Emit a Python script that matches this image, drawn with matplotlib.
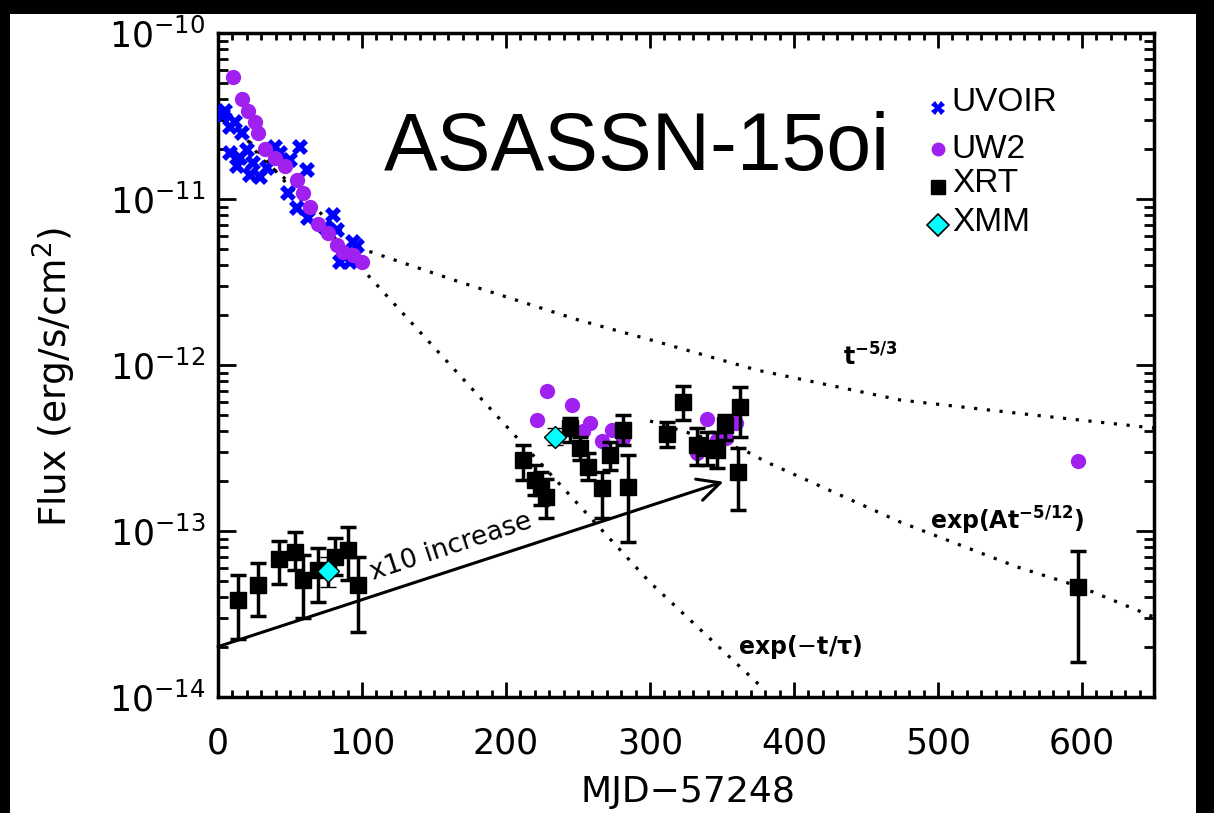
import matplotlib.pyplot as plt
from matplotlib.patches import Rectangle
from matplotlib.ticker import MultipleLocator, LogLocator, NullFormatter

# UVOIR (blue crosses)
uvoir_t = [3.7, 4.9, 8.3, 8.3, 11.8, 13.0, 15.3, 16.4, 19.9, 22.2, 24.5, 29.2, 33.8,
           39.6, 43.0, 48.8, 50.0, 54.6, 56.9, 61.6, 62.7, 74.3, 80.0, 82.4, 84.7,
           91.7, 94.0, 96.3]
uvoir_f = [3.2e-11, 3.4e-11, 2.7e-11, 1.9e-11, 2.9e-11, 1.57e-11, 1.76e-11, 2.5e-11,
           1.97e-11, 1.40e-11, 1.64e-11, 1.36e-11, 1.53e-11, 2.07e-11, 1.88e-11,
           1.08e-11, 1.72e-11, 8.8e-12, 2.05e-11, 1.50e-11, 7.7e-12, 6.8e-12, 8.0e-12,
           6.5e-12, 4.2e-12, 4.2e-12, 5.5e-12, 5.2e-12]

# UW2 (purple circles)
uw2_t = [10.5, 16.4, 21.0, 25.7, 28.0, 32.6, 39.6, 46.5, 54.6, 59.3, 63.9, 69.7,
         76.6, 82.4, 87.0, 94.0, 99.8,
         221.3, 228.7, 245.6, 258.3, 253.7, 266.4, 273.4, 281.5, 311.0, 339.4,
         332.8, 346.3, 352.8, 359.7, 597.5]
uw2_f = [5.4e-11, 4.0e-11, 3.4e-11, 2.9e-11, 2.5e-11, 2.0e-11, 1.76e-11, 1.57e-11,
         1.30e-11, 1.08e-11, 9.0e-12, 7.1e-12, 6.2e-12, 5.3e-12, 4.8e-12, 4.6e-12,
         4.2e-12,
         4.67e-13, 7.0e-13, 5.74e-13, 4.46e-13, 4.02e-13, 3.5e-13, 4.06e-13,
         3.61e-13, 3.84e-13, 4.7e-13, 2.96e-13, 3.53e-13, 3.61e-13, 4.46e-13, 2.65e-13]

# XRT (black squares with error bars)
xrt_t = [14.0, 28.0, 42.0, 53.5, 59.3, 69.7, 81.0, 90.5, 97.5,
         212.0, 220.0, 224.0, 228.0, 244.4, 251.4, 257.0, 266.4, 272.0, 281.5,
         285.0, 311.6, 323.0, 332.4, 339.4, 346.3, 352.0, 362.5, 361.3, 597.5]
xrt_f = [3.84e-14, 4.73e-14, 6.76e-14, 7.50e-14, 5.07e-14, 5.82e-14, 7.0e-14, 7.69e-14,
         4.73e-14,
         2.68e-13, 2.03e-13, 1.82e-13, 1.61e-13, 4.16e-13, 3.15e-13, 2.44e-13, 1.81e-13,
         2.87e-13, 4.06e-13, 1.85e-13, 3.84e-13, 6.01e-13, 3.30e-13, 3.15e-13, 3.08e-13,
         4.35e-13, 5.61e-13, 2.28e-13, 4.62e-14]
xrt_hi = [5.43e-14, 6.44e-14, 8.75e-14, 9.82e-14, 7.16e-14, 7.87e-14, 9.04e-14, 1.06e-13,
          6.95e-14,
          3.30e-13, 2.50e-13, 2.26e-13, 2.07e-13, 4.78e-13, 3.70e-13, 2.94e-13, 2.28e-13,
          3.45e-13, 5.0e-13, 2.87e-13, 4.55e-13, 7.47e-13, 4.16e-13, 3.94e-13, 3.94e-13,
          5.0e-13, 7.40e-13, 3.15e-13, 7.60e-14]
xrt_lo = [2.23e-14, 3.08e-14, 4.80e-14, 5.82e-14, 2.98e-14, 3.75e-14, 5.43e-14, 5.07e-14,
          2.47e-14,
          2.03e-13, 1.65e-13, 1.44e-13, 1.19e-13, 3.45e-13, 2.68e-13, 2.03e-13, 1.19e-13,
          2.33e-13, 3.30e-13, 8.63e-14, 3.19e-13, 4.67e-13, 2.50e-13, 2.50e-13, 2.39e-13,
          3.53e-13, 3.70e-13, 1.34e-13, 1.63e-14]

# XMM (cyan diamonds)
xmm_t = [76.6, 234.0]
xmm_f = [5.74e-14, 3.7e-13]
xmm_hi = [7.0e-14, 4.16e-13]
xmm_lo = [4.6e-14, 3.30e-13]

# model curves
pl_t = [10, 30, 55, 75, 90, 100, 168, 250, 300, 374, 474, 566, 650]
pl_f = [3.0e-11, 1.75e-11, 1.15e-11, 7.6e-12, 6.0e-12, 5.0e-12, 3.16e-12, 1.87e-12,
        1.42e-12, 9.33e-13, 6.15e-13, 5.0e-13, 4.17e-13]
exp_t = [10, 100, 200, 300, 376]
exp_f = [2.9e-11, 3.8e-12, 4.3e-13, 4.9e-14, 1.18e-14]
vis_t = [300, 365, 381, 474, 555, 599, 650]
vis_f = [4.6e-13, 3.08e-13, 2.6e-13, 1.13e-13, 6.07e-14, 4.6e-14, 3.03e-14]

# x10 increase arrow
arrow_t = [0, 351]
arrow_f = [2.01e-14, 1.98e-13]

legend_labels = ['UVOIR', 'UW2', 'XRT', 'XMM']
y_ticks = [1e-14, 1e-13, 1e-12, 1e-11, 1e-10]

plt.rcParams['font.family'] = ['DejaVu Sans']

fig = plt.figure(figsize=(12.14, 8.13), dpi=100, facecolor='black')
fig.patches.append(Rectangle((0.0082, 0.0), 0.977, 0.983, transform=fig.transFigure,
                             facecolor='white', edgecolor='none', zorder=-10))
ax = fig.add_axes([0.1796, 0.1427, 0.7710, 0.8167])

dots = (0, (1, 3))
ax.plot(pl_t, pl_f, color='black', lw=2.3, ls=dots, zorder=1)
ax.plot(exp_t, exp_f, color='black', lw=2.3, ls=dots, zorder=1)
ax.plot(vis_t, vis_f, color='black', lw=2.3, ls=dots, zorder=1)

purple = '#a020f0'
ax.plot(uvoir_t, uvoir_f, 'X', color='blue', ms=12, mew=0, zorder=3)
ax.plot(uw2_t, uw2_f, 'o', color=purple, ms=11, mew=0, zorder=4)

xrt_err = [[f - lo for f, lo in zip(xrt_f, xrt_lo)], [hi - f for f, hi in zip(xrt_f, xrt_hi)]]
ax.errorbar(xrt_t, xrt_f, yerr=xrt_err, fmt='s', color='black', ms=12,
            elinewidth=2.5, capsize=6, capthick=2.5, zorder=5)
xmm_err = [[f - lo for f, lo in zip(xmm_f, xmm_lo)], [hi - f for f, hi in zip(xmm_f, xmm_hi)]]
ax.errorbar(xmm_t, xmm_f, yerr=xmm_err, fmt='D', mfc='cyan', mec='black', mew=1,
            ecolor='black', ms=11, elinewidth=2.5, capsize=6, capthick=2.5, zorder=6)

ax.annotate('', xy=(arrow_t[1], arrow_f[1]), xytext=(arrow_t[0], arrow_f[0]),
            arrowprops=dict(arrowstyle='->', lw=2.2, color='black',
                            mutation_scale=40, shrinkA=0, shrinkB=0), zorder=7)
ax.text(162, 8.0e-14, 'x10 increase', fontsize=19, rotation=18.2,
        ha='center', va='center', rotation_mode='anchor')

ax.text(453, 1.12e-12, r'$\mathbf{t^{-5/3}}$', fontsize=17, ha='center', va='center')
ax.text(548, 1.15e-13, r'exp(At$^{\mathbf{-5/12}}$)', fontsize=17, ha='center', va='center',
        weight='bold')
ax.text(404, 2.0e-14, r'exp($-$t/$\mathbf{\tau}$)', fontsize=17, ha='center', va='center',
        weight='bold')

ax.text(291, 2.0e-11, 'ASASSN-15oi', fontsize=58, ha='center', va='center',
        family='Liberation Sans')

# legend drawn by hand, markers left of the labels
leg_marker_y = [0.887, 0.825, 0.768, 0.711]
leg_text_y = [0.895, 0.824, 0.774, 0.715]
ax.plot(0.769, leg_marker_y[0], 'X', color='blue', ms=10, mew=0, transform=ax.transAxes, clip_on=False)
ax.plot(0.769, leg_marker_y[1], 'o', color=purple, ms=10, mew=0, transform=ax.transAxes, clip_on=False)
ax.plot(0.769, leg_marker_y[2], 's', color='black', ms=10, transform=ax.transAxes, clip_on=False)
ax.plot(0.769, leg_marker_y[3], 'D', mfc='cyan', mec='black', mew=1.2, ms=11,
        transform=ax.transAxes, clip_on=False)
for lab, yy in zip(legend_labels, leg_text_y):
    ax.text(0.784, yy, lab, fontsize=24, family='Liberation Sans', ha='left', va='center',
            transform=ax.transAxes)

ax.set_yscale('log')
ax.set_xlim(0, 650)
ax.set_ylim(1e-14, 1e-10)
ax.set_yticks(y_ticks)
ax.xaxis.set_major_locator(MultipleLocator(100))
ax.xaxis.set_minor_locator(MultipleLocator(10))
ax.yaxis.set_minor_locator(LogLocator(base=10, subs=range(2, 10)))
ax.yaxis.set_minor_formatter(NullFormatter())
ax.tick_params(which='both', direction='in', top=True, right=True, labelsize=25, width=2)
ax.tick_params(axis='x', which='major', length=11, pad=21)
ax.tick_params(axis='x', which='minor', length=5)
ax.tick_params(axis='y', which='major', length=13, pad=9)
ax.tick_params(axis='y', which='minor', length=7)
for s in ax.spines.values():
    s.set_linewidth(2.5)

ax.set_xlabel('MJD\u221257248', fontsize=26)
ax.set_ylabel('Flux (erg/s/cm$^2$)', fontsize=27)
ax.xaxis.set_label_coords(0.502, -0.1175)
ax.yaxis.set_label_coords(-0.150, 0.482)

fig.savefig('out.png', dpi=100, facecolor=fig.get_facecolor())
